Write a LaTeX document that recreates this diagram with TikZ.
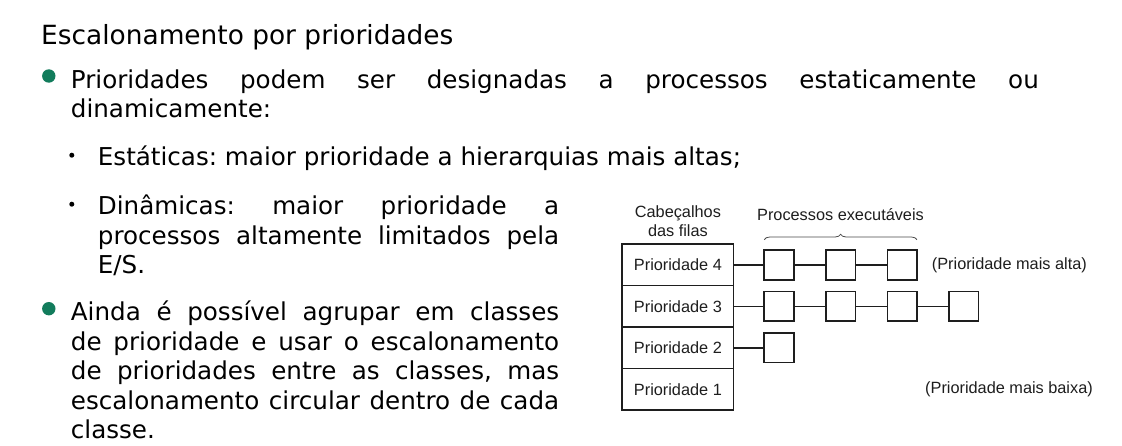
\documentclass[tikz,border=0pt]{standalone}
\usepackage{fontspec}
\setmainfont{DejaVu Sans}
\newfontfamily\diagfont{Liberation Sans}
\usetikzlibrary{positioning,decorations.pathreplacing}
\definecolor{bulletgreen}{RGB}{18,124,92}
\definecolor{inkgray}{RGB}{30,30,30}
\frenchspacing

\begin{document}
\begin{tikzpicture}[x=1pt, y=-1pt,
    titletxt/.style={anchor=base west, inner sep=0pt, font=\fontsize{26.4}{30}\selectfont},
    txt/.style={anchor=base west, inner sep=0pt, font=\fontsize{24.6}{29.3}\selectfont},
    headbox/.style={
        draw=inkgray, rectangle, line width=1.6pt, outer sep=0pt,
        minimum width=111.5pt, minimum height=41.4pt,
        font=\diagfont\fontsize{16.3}{18.4}\selectfont, text=inkgray
    },
    procbox/.style={draw=inkgray, rectangle, line width=1.6pt, outer sep=0pt,
        inner sep=0pt, minimum size=29.5pt},
    link/.style={line width=1.6pt, draw=inkgray},
    lbl/.style={inner sep=0pt, font=\diagfont\fontsize{16.3}{18.4}\selectfont, text=inkgray},
    bracket/.style={decorate, decoration={brace, amplitude=5.5pt}, line width=0.8pt, draw=inkgray!80}
]
    \fill[white] (0,0) rectangle (1122,446);
    \useasboundingbox (0,0) rectangle (1122,446);

    % Slide text
    \node[titletxt] (title) at (41,44.6) {Escalonamento por prioridades};
    \fill[bulletgreen] (48.8,76) circle (6.7pt);
    \node[txt] (a1) at (70.7,88.3) {\makebox[967.9pt][s]{Prioridades podem ser designadas a processos estaticamente ou}};
    \node[txt] (a2) at (70.7,117.3) {dinamicamente:};
    \fill (71.8,155.2) circle (2.5pt);
    \node[txt] (b1) at (97.7,166) {Estáticas: maior prioridade a hierarquias mais altas;};
    \fill (71.8,204.2) circle (2.5pt);
    \node[txt] (c1) at (97.7,215) {\makebox[461.3pt][s]{Dinâmicas: maior prioridade a}};
    \node[txt] (c2) at (97.7,244.2) {\makebox[461.3pt][s]{processos altamente limitados pela}};
    \node[txt] (c3) at (97.7,273.4) {E/S.};
    \fill[bulletgreen] (48.8,308.7) circle (6.7pt);
    \node[txt] (d1) at (70.7,321) {\makebox[488.3pt][s]{Ainda é possível agrupar em classes}};
    \node[txt] (d2) at (70.7,350.4) {\makebox[488.3pt][s]{de prioridade e usar o escalonamento}};
    \node[txt] (d3) at (70.7,379.8) {\makebox[488.3pt][s]{de prioridades entre as classes, mas}};
    \node[txt] (d4) at (70.7,409.2) {\makebox[488.3pt][s]{escalonamento circular dentro de cada}};
    \node[txt] (d5) at (70.7,438.6) {classe.};

    % Queue headers
    \node[headbox] (p4) at (677.9,265) {Prioridade 4};
    \node[headbox, below=0pt of p4] (p3) {Prioridade 3};
    \node[headbox, below=0pt of p3] (p2) {Prioridade 2};
    \node[headbox, below=0pt of p2] (p1) {Prioridade 1};
    \node[lbl, align=center, anchor=south] (hdrtitle) at ([yshift=7.6pt]p4.north) {Cabeçalhos\\das filas};

    % Runnable processes
    \node[procbox, right=30.6pt of p4] (q41) {};
    \node[procbox, right=32.1pt of q41] (q42) {};
    \node[procbox, right=32.1pt of q42] (q43) {};
    \node[procbox, right=30.6pt of p3] (q31) {};
    \node[procbox, right=32.1pt of q31] (q32) {};
    \node[procbox, right=32.1pt of q32] (q33) {};
    \node[procbox, right=32.1pt of q33] (q34) {};
    \node[procbox, right=30.6pt of p2] (q21) {};

    \foreach \a/\b in {p4/q41, q41/q42, q42/q43, p3/q31, q31/q32, q32/q33, q33/q34, p2/q21}
        \draw[link] (\a) -- (\b);

    \draw[bracket] ([yshift=10.5pt]q41.north west) -- ([yshift=10.5pt]q43.north east);
    \node[lbl, anchor=base] (procs) at (840.5,221) {Processos executáveis};

    \node[lbl, anchor=west] (high) at (931.7,265) {(Prioridade mais alta)};
    \node[lbl, anchor=west] (low) at (925,389.5) {(Prioridade mais baixa)};

\end{tikzpicture}
\end{document}
